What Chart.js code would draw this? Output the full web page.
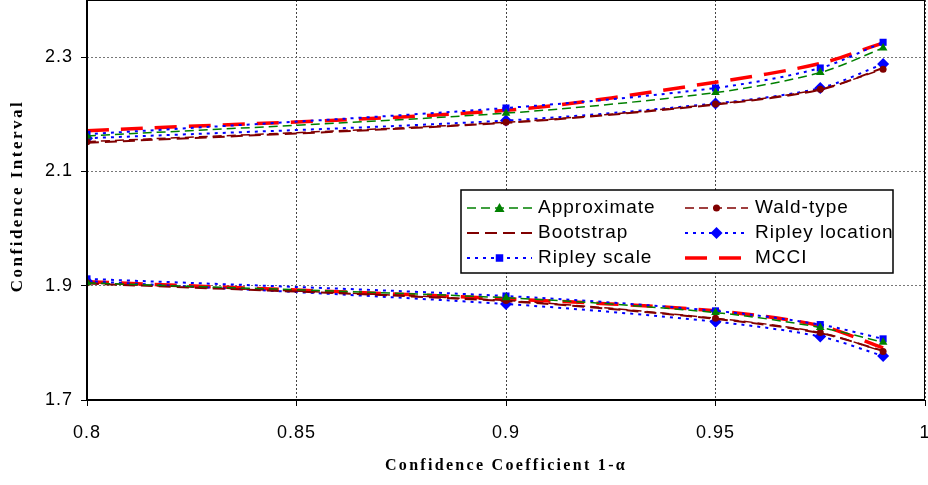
<!DOCTYPE html>
<html>
<head>
<meta charset="utf-8">
<script src="https://cdn.jsdelivr.net/npm/chart.js@4.4.0/dist/chart.umd.min.js"></script>
<style>
  html, body { margin: 0; padding: 0; background: #fff; }
  #wrap { width: 928px; height: 485px; }
</style>
</head>
<body>
<div id="wrap"><canvas id="ciChart" width="928" height="485"></canvas></div>
<script>
// Data
const alphaLevels = [0.8, 0.9, 0.95, 0.975, 0.99];

const approxUpper = [2.162, 2.202, 2.238, 2.273, 2.316];
const approxLower = [1.905, 1.879, 1.853, 1.827, 1.801];
const waldUpper = [2.152, 2.186, 2.218, 2.244, 2.279];
const waldLower = [1.905, 1.874, 1.843, 1.818, 1.785];
const bootUpper = [2.150, 2.185, 2.217, 2.243, 2.281];
const bootLower = [1.904, 1.873, 1.842, 1.817, 1.786];
const ripLocUpper = [2.158, 2.189, 2.219, 2.246, 2.288];
const ripLocLower = [1.908, 1.868, 1.837, 1.811, 1.777];
const ripScaleUpper = [2.165, 2.211, 2.246, 2.281, 2.326];
const ripScaleLower = [1.912, 1.882, 1.856, 1.832, 1.807];
const mcciUpper = [2.171, 2.207, 2.256, 2.289, 2.325];
const mcciLower = [1.907, 1.877, 1.856, 1.830, 1.791];

const xTicks = [0.8, 0.85, 0.9, 0.95, 1];
const xTickLabels = ['0.8', '0.85', '0.9', '0.95', '1'];
const yTicks = [1.7, 1.9, 2.1, 2.3];
const yTickLabels = ['1.7', '1.9', '2.1', '2.3'];

const xTitle = 'Confidence Coefficient 1-α';
const yTitle = 'Confidence Interval';

// Series styles (legend order: row by row, two columns)
const methods = [
    { name: 'Approximate', upper: approxUpper, lower: approxLower, color: '#008000', width: 1.5, dash: [9, 5], marker: 'triangle', size: 5 },
    { name: 'Wald-type', upper: waldUpper, lower: waldLower, color: '#800000', width: 1.5, dash: [9, 5], marker: 'circle', size: 3.5 },
    { name: 'Bootstrap', upper: bootUpper, lower: bootLower, color: '#800000', width: 2, dash: [12, 6], marker: 'none', size: 0 },
    { name: 'Ripley location', upper: ripLocUpper, lower: ripLocLower, color: '#0000FF', width: 2, dash: [3, 5], marker: 'diamond', size: 6 },
    { name: 'Ripley scale', upper: ripScaleUpper, lower: ripScaleLower, color: '#0000FF', width: 2, dash: [3, 5], marker: 'square', size: 5 },
    { name: 'MCCI', upper: mcciUpper, lower: mcciLower, color: '#FF0000', width: 3.5, dash: [22, 12], marker: 'none', size: 0 }
];

const chartStyle = {
    square: 'rect', circle: 'circle', triangle: 'triangle', diamond: 'rectRot', none: false
};

function toPoints(values) {
    return values.map((v, i) => ({ x: alphaLevels[i], y: v }));
}

const datasets = [];
methods.forEach(m => {
    [m.upper, m.lower].forEach(vals => {
        datasets.push({
            label: m.name,
            data: toPoints(vals),
            borderColor: m.color,
            backgroundColor: m.color,
            borderWidth: m.width,
            borderDash: m.dash,
            pointStyle: chartStyle[m.marker],
            pointRadius: m.size,
            pointBorderWidth: 0,
            tension: 0.3,
            fill: false
        });
    });
});

function drawMarker(ctx, type, x, y, r, color) {
    ctx.save();
    ctx.fillStyle = color;
    ctx.beginPath();
    if (type === 'triangle') {
        ctx.moveTo(x, y - r);
        ctx.lineTo(x + r, y + r * 0.8);
        ctx.lineTo(x - r, y + r * 0.8);
    } else if (type === 'circle') {
        ctx.arc(x, y, r, 0, Math.PI * 2);
    } else if (type === 'square') {
        ctx.rect(x - r * 0.75, y - r * 0.75, r * 1.5, r * 1.5);
    } else if (type === 'diamond') {
        ctx.moveTo(x, y - r);
        ctx.lineTo(x + r, y);
        ctx.lineTo(x, y + r);
        ctx.lineTo(x - r, y);
    }
    ctx.closePath();
    ctx.fill();
    ctx.restore();
}

// the source text is set with wide character spacing
const spacingPlugin = {
    id: 'spacing',
    beforeUpdate(chart) { chart.ctx.letterSpacing = '1px'; },
    beforeDraw(chart) { chart.ctx.letterSpacing = '1px'; }
};

// Frame, legend box and axis titles
const framePlugin = {
    id: 'frame',
    afterDatasetsDraw(chart) {
        const { ctx, chartArea: a } = chart;
        ctx.save();
        ctx.strokeStyle = '#000';
        ctx.lineWidth = 1;
        ctx.strokeRect(a.left + 0.5, a.top + 0.5, a.right - a.left - 1, a.bottom - a.top - 1);
        ctx.lineWidth = 2;
        ctx.beginPath();
        ctx.moveTo(a.left, a.top);
        ctx.lineTo(a.left, a.bottom);
        ctx.lineTo(a.right, a.bottom);
        ctx.stroke();
        ctx.restore();
    },
    afterDraw(chart) {
        const ctx = chart.ctx;
        const box = { x: 461, y: 190, w: 432, h: 83 };
        ctx.save();
        ctx.fillStyle = '#fff';
        ctx.fillRect(box.x, box.y, box.w, box.h);
        ctx.strokeStyle = '#000';
        ctx.lineWidth = 1.5;
        ctx.strokeRect(box.x, box.y, box.w, box.h);
        ctx.font = '19px "Liberation Sans", Arial, sans-serif';
        ctx.letterSpacing = '1px';
        ctx.textBaseline = 'middle';
        const cols = [{ x0: 467, x1: 532, tx: 538 }, { x0: 685, x1: 748, tx: 755 }];
        const rows = [208, 233, 258];
        methods.forEach((m, i) => {
            const c = cols[i % 2];
            const y = rows[Math.floor(i / 2)];
            ctx.strokeStyle = m.color;
            ctx.lineWidth = m.width;
            ctx.setLineDash(m.dash);
            ctx.beginPath();
            ctx.moveTo(c.x0, y);
            ctx.lineTo(c.x1, y);
            ctx.stroke();
            ctx.setLineDash([]);
            if (m.marker !== 'none') drawMarker(ctx, m.marker, (c.x0 + c.x1) / 2, y, m.size, m.color);
            ctx.fillStyle = '#000';
            ctx.fillText(m.name, c.tx, y);
        });

        // axis titles
        ctx.fillStyle = '#000';
        ctx.textAlign = 'center';
        ctx.font = 'bold 16px "Liberation Serif", "Times New Roman", serif';
        ctx.letterSpacing = '2.3px';
        ctx.fillText(xTitle, 506, 466);
        ctx.translate(18, 196);
        ctx.rotate(-Math.PI / 2);
        ctx.font = 'bold 17px "Liberation Serif", "Times New Roman", serif';
        ctx.letterSpacing = '2.5px';
        ctx.fillText(yTitle, 0, 0);
        ctx.restore();
    }
};

new Chart(document.getElementById('ciChart'), {
    type: 'line',
    data: { datasets: datasets },
    options: {
        responsive: false,
        animation: false,
        devicePixelRatio: 1,
        layout: { autoPadding: false, padding: { top: 0, right: 3, bottom: 4, left: 0 } },
        plugins: {
            legend: { display: false },
            tooltip: { enabled: false }
        },
        scales: {
            x: {
                type: 'linear',
                min: 0.8,
                max: 1,
                afterBuildTicks: s => { s.ticks = xTicks.map(v => ({ value: v })); },
                afterFit: s => { s.height = 81; s.paddingLeft = 0; s.paddingRight = 0; },
                grid: { color: '#444', tickColor: '#000', tickLength: 6, drawTicks: true },
                border: { display: false, dash: [2, 2] },
                ticks: {
                    color: '#000',
                    padding: 16,
                    maxRotation: 0,
                    font: { family: '"Liberation Sans", Arial, sans-serif', size: 18 },
                    callback: (v) => xTickLabels[xTicks.indexOf(v)]
                },
                title: { display: false }
            },
            y: {
                min: 1.7,
                max: 2.4,
                afterBuildTicks: s => { s.ticks = yTicks.map(v => ({ value: v })); },
                afterFit: s => { s.width = 87; s.paddingTop = 0; s.paddingBottom = 0; },
                grid: { color: '#777', tickColor: '#000', tickLength: 6 },
                border: { display: false, dash: [2, 2] },
                ticks: {
                    color: '#000',
                    padding: 8,
                    font: { family: '"Liberation Sans", Arial, sans-serif', size: 18 },
                    callback: (v) => yTickLabels[yTicks.indexOf(v)]
                },
                title: { display: false }
            }
        }
    },
    plugins: [spacingPlugin, framePlugin]
});
</script>
</body>
</html>
